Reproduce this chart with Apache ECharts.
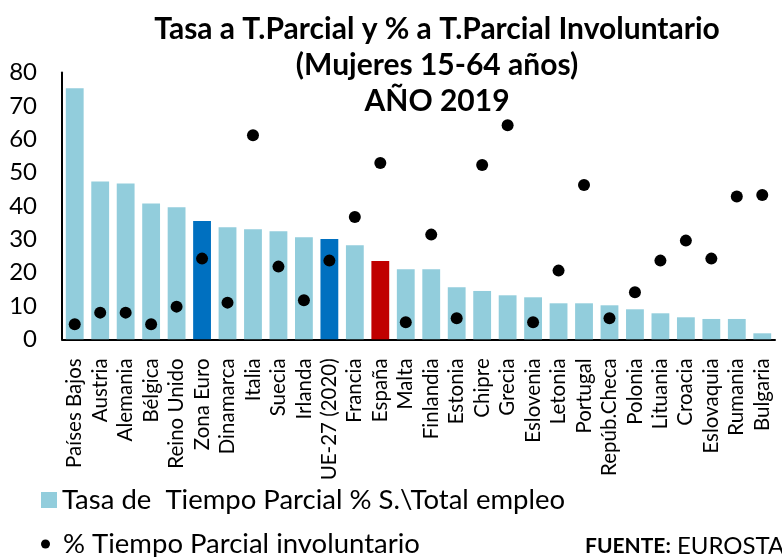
<!DOCTYPE html>
<html>
<head>
<meta charset="utf-8">
<script src="https://cdn.jsdelivr.net/npm/echarts@6/dist/echarts.min.js"></script>
<style>html,body{margin:0;padding:0;background:#fff}#c{width:782px;height:557px}</style>
</head>
<body>
<div id="c"></div>
<script>
const categories = ['Países Bajos','Austria','Alemania','Bélgica','Reino Unido','Zona Euro','Dinamarca','Italia','Suecia','Irlanda','UE-27 (2020)','Francia','España','Malta','Finlandia','Estonia','Chipre','Grecia','Eslovenia','Letonia','Portugal','Repúb.Checa','Polonia','Lituania','Croacia','Eslovaquia','Rumania','Bulgaria'];
const tasaParcial = [75.3,47.3,46.7,40.7,39.6,35.5,33.6,33.0,32.4,30.6,30.1,28.2,23.5,21.0,21.0,15.6,14.5,13.2,12.6,10.8,10.8,10.2,9.0,7.8,6.6,6.1,6.1,1.8];
const involuntario = [4.5,8.0,8.0,4.5,9.8,24.2,11.0,61.2,21.8,11.7,23.6,36.7,52.9,5.1,31.4,6.3,52.3,64.2,5.1,20.6,46.3,6.3,14.1,23.6,29.6,24.2,42.8,43.3];
const yTicks = [0,10,20,30,40,50,60,70,80];
const seriesNames = ['Tasa de  Tiempo Parcial % S.\\Total empleo', '% Tiempo Parcial involuntario'];
const titleLines = ['Tasa a T.Parcial y % a T.Parcial Involuntario','(Mujeres 15-64 años)','AÑO 2019'];

const FONT = 'Lato, "Open Sans", sans-serif';
const baseColor = '#92CDDC';
const highlight = {'Zona Euro':'#0070C0','UE-27 (2020)':'#0070C0','España':'#C00000'};

const chart = echarts.init(document.getElementById('c'));
chart.setOption({
  animation: false,
  textStyle: {fontFamily: FONT},
  title: {
    text: titleLines.join('\n'),
    left: 432, top: 6, textAlign: 'center',
    textStyle: {fontFamily: FONT, fontSize: 30, fontWeight: 'bold', color: '#000', lineHeight: 36}
  },
  grid: {left: 62, right: 7, top: 72.6, bottom: 557 - 339.3, containLabel: false},
  legend: [
    {data: [seriesNames[0]], left: 41, top: 486, orient: 'vertical', itemWidth: 16, itemHeight: 16, padding: 0, icon: 'rect',
     textStyle: {fontFamily: FONT, fontSize: 27.5, color: '#000'}},
    {data: [seriesNames[1]], left: 41, top: 530, orient: 'vertical', itemWidth: 9, itemHeight: 9, padding: 0, icon: 'circle',
     textStyle: {fontFamily: FONT, fontSize: 27.5, color: '#000', padding: [0,0,0,8]}}
  ],
  xAxis: {
    type: 'category', data: categories,
    axisLine: {lineStyle: {color: '#000', width: 2}},
    axisTick: {show: false},
    axisLabel: {interval: 0, rotate: 90, fontSize: 20.5, color: '#000', margin: 19, fontFamily: FONT}
  },
  yAxis: {
    type: 'value', min: yTicks[0], max: yTicks[yTicks.length-1], interval: yTicks[1]-yTicks[0],
    axisLine: {show: true, lineStyle: {color: '#000', width: 2}},
    axisTick: {show: false},
    splitLine: {show: false},
    axisLabel: {fontSize: 24, color: '#000', margin: 25, fontFamily: FONT}
  },
  graphic: [{
    type: 'text', left: 585, top: 534,
    style: {
      text: '{b|FUENTE:}{n| EUROSTAT}',
      rich: {
        b: {fontFamily: FONT, fontSize: 21, fontWeight: 'bold', fill: '#000', lineHeight: 28},
        n: {fontFamily: FONT, fontSize: 24, fill: '#000', lineHeight: 28}
      }
    }
  }],
  series: [
    {
      name: seriesNames[0], type: 'bar', barCategoryGap: '30%',
      itemStyle: {color: baseColor},
      data: tasaParcial.map((v, i) => ({value: v, itemStyle: {color: highlight[categories[i]] || baseColor}}))
    },
    {
      name: seriesNames[1], type: 'scatter', symbol: 'circle', symbolSize: 12,
      itemStyle: {color: '#000', opacity: 1},
      data: involuntario
    }
  ]
});
</script>
</body>
</html>
